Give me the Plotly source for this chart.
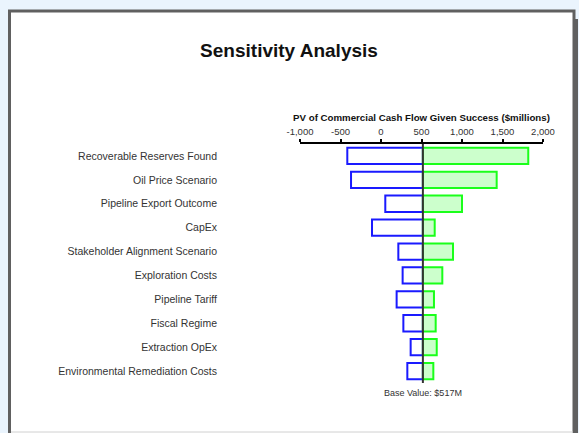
import plotly.graph_objects as go

# ---- data ----
categories = [
    "Recoverable Reserves Found",
    "Oil Price Scenario",
    "Pipeline Export Outcome",
    "CapEx",
    "Stakeholder Alignment Scenario",
    "Exploration Costs",
    "Pipeline Tariff",
    "Fiscal Regime",
    "Extraction OpEx",
    "Environmental Remediation Costs",
]
low_values = [-416, -370, 53, -111, 214, 267, 193, 276, 366, 325]
high_values = [1818, 1428, 1000, 663, 889, 757, 654, 675, 688, 646]
base_value = 517
x_tick_values = [-1000, -500, 0, 500, 1000, 1500, 2000]
x_tick_labels = ["-1,000", "-500", "0", "500", "1,000", "1,500", "2,000"]

W, H = 579, 433
L, R, T, B = 300, 36, 144, 50
pw, ph = W - L - R, H - T - B

def px(x):
    return (x - L) / pw

def py(y):
    return (H - B - y) / ph

fig = go.Figure()

fig.add_trace(go.Bar(
    y=categories,
    x=[base_value - v for v in low_values],
    base=low_values,
    orientation="h",
    width=0.68,
    marker=dict(color="white", line=dict(color="#1a1aff", width=2)),
    showlegend=False,
    hoverinfo="skip",
))
fig.add_trace(go.Bar(
    y=categories,
    x=[v - base_value for v in high_values],
    base=[base_value] * len(high_values),
    orientation="h",
    width=0.68,
    marker=dict(color="#ccffcc", line=dict(color="#1aff1a", width=2)),
    showlegend=False,
    hoverinfo="skip",
))

shapes = [
    # drop shadow
    dict(type="rect", xref="paper", yref="paper",
         x0=px(12), x1=px(578), y0=py(440), y1=py(19),
         fillcolor="#606060", line=dict(width=0), layer="below"),
    # white frame
    dict(type="rect", xref="paper", yref="paper",
         x0=px(9.5), x1=px(574), y0=py(440), y1=py(11),
         fillcolor="white", line=dict(color="#606060", width=3), layer="below"),
    # bottom light line
    dict(type="line", xref="paper", yref="paper",
         x0=px(11), x1=px(573), y0=py(432), y1=py(432),
         line=dict(color="#d0d0d0", width=1), layer="below"),
    # base value line
    dict(type="line", xref="x", yref="paper",
         x0=base_value, x1=base_value, y0=0.0, y1=1,
         line=dict(color="#333333", width=2), layer="above"),
]

fig.update_layout(
    width=W, height=H,
    margin=dict(l=L, r=R, t=T, b=B),
    paper_bgcolor="#eaf4fd",
    plot_bgcolor="rgba(0,0,0,0)",
    barmode="overlay",
    bargap=0.3,
    font=dict(family="Liberation Sans, Arial, sans-serif", color="#333333"),
    title=dict(
        text="<b>Sensitivity Analysis</b>",
        x=289 / W, xanchor="center",
        y=1 - 50 / H, yanchor="middle",
        font=dict(size=19, color="#111111"),
    ),
    shapes=shapes,
    xaxis=dict(
        side="top",
        range=[-1000, 2000],
        tickvals=x_tick_values,
        ticktext=x_tick_labels,
        showline=True, linecolor="black", linewidth=2,
        ticks="outside", ticklen=3, tickwidth=1.5, tickcolor="black",
        tickfont=dict(size=9.5, color="#333333"),
        showgrid=False, zeroline=False,
        title=dict(
            text="<b>PV of Commercial Cash Flow Given Success ($millions)</b>",
            font=dict(size=9.7, color="#111111"),
            standoff=3,
        ),
    ),
    yaxis=dict(
        autorange="reversed",
        showgrid=False, zeroline=False, showline=False,
        ticks="",
        ticklabelstandoff=82,
        tickfont=dict(size=10.5, color="#333333"),
    ),
    annotations=[
        dict(
            text=f"Base Value: ${base_value}M",
            x=base_value, xref="x",
            y=0, yref="paper",
            yanchor="top", xanchor="center",
            yshift=-3,
            showarrow=False,
            font=dict(size=9, color="#333333"),
        )
    ],
)

fig.write_html(
    "out.html",
    config={"displayModeBar": False},
    post_script="document.body.style.margin='0';document.body.style.background='#eaf4fd';",
)
